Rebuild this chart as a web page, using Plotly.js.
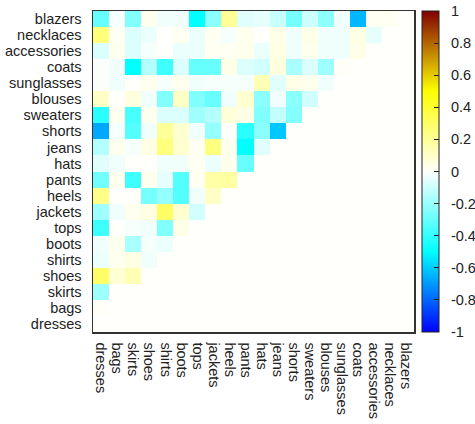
<!DOCTYPE html>
<html>
<head>
<meta charset="utf-8">
<script src="https://cdn.plot.ly/plotly-3.0.1.min.js"></script>
<style>html,body{margin:0;padding:0;background:#fff;}#chart{width:475px;height:424px;}</style>
</head>
<body>
<div id="chart"></div>
<script>
// Categories (bottom-to-top on y, left-to-right on x)
const categories = ['dresses','bags','skirts','shoes','shirts','boots','tops','jackets','heels','pants','hats','jeans','shorts','sweaters','blouses','sunglasses','coats','accessories','necklaces','blazers'];

// Lower-triangle correlation values: row named by y category, entries follow x order
const dresses = [];
const bags = [0.01];
const skirts = [-0.19];
const shoes = [0.30, 0.08, 0.14];
const shirts = [-0.04, 0.03, 0.05, -0.03];
const boots = [-0.03, 0.03, -0.17, -0.02, -0.04];
const tops = [-0.38, 0.00, -0.02, -0.03, -0.25, 0.04];
const jackets = [-0.19, -0.03, 0.03, 0.05, 0.30, 0.09, -0.09];
const heels = [0.23, 0.00, 0.00, -0.27, -0.21, -0.34, -0.03, 0.11];
const pants = [-0.28, 0.03, -0.38, 0.03, -0.05, -0.34, 0.02, 0.17, 0.18];
const hats = [-0.06, -0.03, 0.00, 0.00, -0.03, -0.03, 0.02, -0.04, 0.03, -0.30];
const jeans = [-0.15, 0.03, -0.02, 0.05, 0.25, 0.09, 0.02, 0.25, 0.03, -0.50, -0.06];
const shorts = [-0.67, -0.02, -0.34, -0.03, 0.20, 0.09, -0.03, -0.21, 0.00, -0.42, -0.23, -0.61];
const sweaters = [-0.42, 0.03, -0.36, 0.03, -0.07, -0.07, -0.19, -0.15, 0.07, 0.04, -0.25, -0.12, -0.24];
const blouses = [0.11, 0.00, 0.06, -0.03, -0.25, 0.11, -0.25, -0.30, -0.03, 0.09, -0.23, -0.03, -0.23, -0.09];
const sunglasses = [-0.01, -0.03, 0.00, 0.03, -0.02, 0.03, -0.03, -0.02, -0.02, -0.02, 0.14, -0.06, 0.04, 0.03, -0.03];
const coats = [-0.01, -0.03, -0.50, -0.15, -0.38, -0.07, -0.30, -0.30, 0.04, -0.07, -0.09, 0.06, -0.17, -0.07, -0.19, 0.01];
const accessories = [-0.07, 0.03, -0.07, -0.02, 0.00, -0.04, -0.04, 0.02, 0.02, 0.03, -0.04, 0.05, -0.03, 0.03, -0.03, -0.03, 0.04];
const necklaces = [0.26, 0.02, -0.07, -0.04, 0.00, 0.02, -0.04, 0.02, -0.02, 0.03, 0.00, 0.04, -0.03, 0.04, -0.03, -0.03, 0.05, -0.05];
const blazers = [-0.30, -0.02, -0.25, 0.03, -0.03, -0.03, -0.50, -0.23, 0.20, -0.06, -0.05, -0.11, -0.27, -0.10, -0.22, -0.03, -0.64, 0.02, 0.02];

const colorbarTicks = [-1, -0.8, -0.6, -0.4, -0.2, 0, 0.2, 0.4, 0.6, 0.8, 1];
const colorbarTickText = ['-1', '-0.8', '-0.6', '-0.4', '-0.2', '0', '0.2', '0.4', '0.6', '0.8', '1'];

const rows = [dresses, bags, skirts, shoes, shirts, boots, tops, jackets, heels, pants, hats, jeans, shorts, sweaters, blouses, sunglasses, coats, accessories, necklaces, blazers];
const z = rows.map(r => categories.map((c, j) => (j < r.length ? r[j] : null)));

const font = {family: '"Liberation Sans", Arial, sans-serif', size: 14.5, color: '#222'};

const trace = {
  type: 'heatmap',
  x: categories,
  y: categories,
  z: z,
  zmin: -1,
  zmax: 1,
  colorscale: [[0, 'rgb(0,0,255)'], [0.25, 'rgb(0,255,255)'], [0.5, 'rgb(255,255,252)'], [0.75, 'rgb(255,255,0)'], [1, 'rgb(128,0,0)']],
  hoverongaps: false,
  colorbar: {
    x: 1.025, xanchor: 'left', xref: 'paper',
    y: 0, yanchor: 'bottom', len: 1, lenmode: 'fraction',
    thickness: 17, thicknessmode: 'pixels',
    outlinecolor: '#222', outlinewidth: 1,
    ticks: 'inside', ticklen: 5, tickcolor: '#222', tickwidth: 1,
    tickvals: colorbarTicks, ticktext: colorbarTickText.map(t => '\u00a0\u00a0' + t),
    tickfont: font,
    xpad: 0, ypad: 0
  }
};

const layout = {
  width: 475, height: 424,
  margin: {l: 93, r: 61, t: 11, b: 92, autoexpand: false},
  paper_bgcolor: '#ffffff',
  plot_bgcolor: 'rgb(255,255,252)',
  font: font,
  xaxis: {
    type: 'category', categoryorder: 'array', categoryarray: categories,
    tickmode: 'array', tickvals: categories, ticktext: categories,
    tickangle: 90, ticks: '', showgrid: false, zeroline: false,
    showline: true, linecolor: '#333', linewidth: 1.5, mirror: true,
    tickfont: font, ticklabelstandoff: 6
  },
  yaxis: {
    type: 'category', categoryorder: 'array', categoryarray: categories,
    tickmode: 'array', tickvals: categories, ticktext: categories,
    ticks: '', showgrid: false, zeroline: false,
    showline: true, linecolor: '#333', linewidth: 1.5, mirror: true,
    tickfont: font, ticklabelstandoff: 7
  }
};

Plotly.newPlot('chart', [trace], layout, {displayModeBar: false, staticPlot: true});
</script>
</body>
</html>
